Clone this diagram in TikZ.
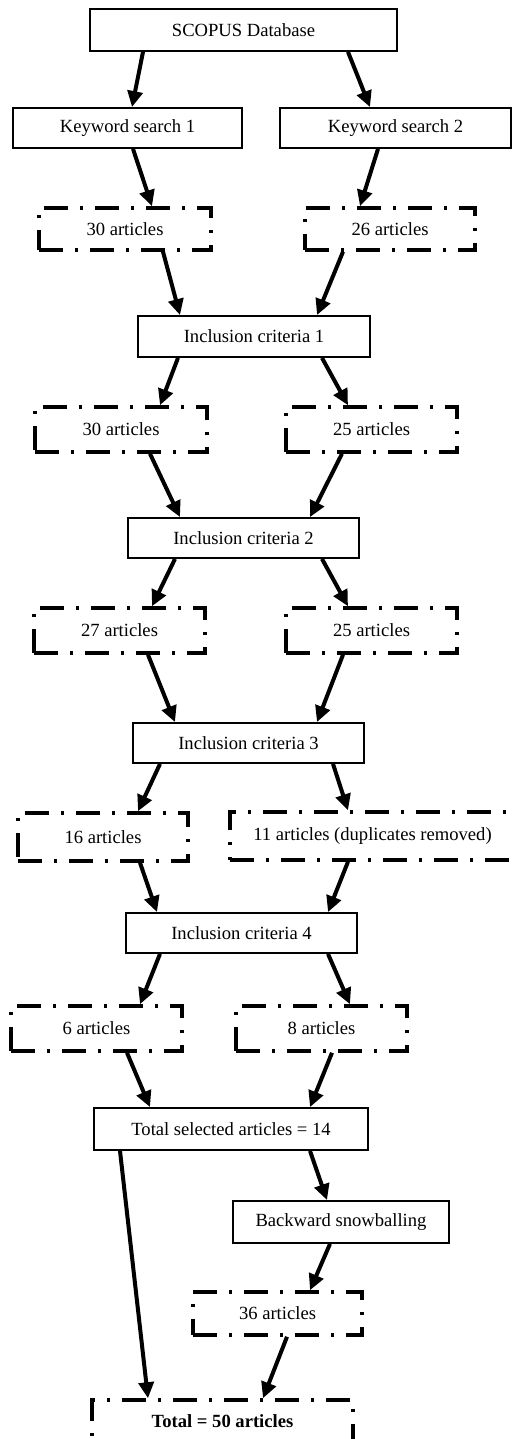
\documentclass[tikz,border=0pt]{standalone}
\usepackage{fontspec}
\setmainfont{Liberation Serif}
\usetikzlibrary{arrows.meta}
\tikzset{
  solidbox/.style={draw=black, line width=1.8pt, inner sep=0pt, fill=white,
    font=\fontsize{18.6}{22}\selectfont},
  dashbox/.style={draw=black, line width=3.5pt, inner sep=0pt,
    dash pattern=on 24pt off 12pt on 3pt off 12pt,
    font=\fontsize{18.6}{22}\selectfont},
  arr/.style={draw=black, line width=4pt,
    -{Triangle[length=16pt,width=15pt]}}
}
\begin{document}
\begin{tikzpicture}[x=1pt,y=-1pt]
\fill[white] (0,0) rectangle (512,1439);
\useasboundingbox (0,0) rectangle (512,1439);

\node[solidbox, minimum width=307pt, minimum height=42pt] (scopus) at (243.5,30) {SCOPUS Database};
\node[solidbox, minimum width=229pt, minimum height=40pt] (ks1) at (127.5,128) {Keyword search 1};
\node[solidbox, minimum width=231pt, minimum height=40pt] (ks2) at (395.5,128) {Keyword search 2};
\node[dashbox, minimum width=172pt, minimum height=42pt] (a30) at (125,229) {30 articles};
\node[dashbox, minimum width=170pt, minimum height=42pt] (a26) at (390,229) {26 articles};
\node[solidbox, minimum width=232pt, minimum height=41pt] (ic1) at (254,336.5) {Inclusion criteria 1};
\node[dashbox, minimum width=172pt, minimum height=45pt] (b30) at (121,429.5) {30 articles};
\node[dashbox, minimum width=171pt, minimum height=45pt] (b25) at (371.5,429.5) {25 articles};
\node[solidbox, minimum width=231pt, minimum height=40pt] (ic2) at (243.5,538) {Inclusion criteria 2};
\node[dashbox, minimum width=171pt, minimum height=45pt] (c27) at (119.5,630.5) {27 articles};
\node[dashbox, minimum width=171pt, minimum height=45pt] (c25) at (371.5,630.5) {25 articles};
\node[solidbox, minimum width=231pt, minimum height=40pt] (ic3) at (248.5,743) {Inclusion criteria 3};
\node[dashbox, minimum width=170pt, minimum height=48pt] (d16) at (103,837) {16 articles};
\node[dashbox, minimum width=285pt, minimum height=48pt] (d11) at (372.5,836) {11 articles (duplicates removed)};
\node[solidbox, minimum width=231pt, minimum height=40pt] (ic4) at (241.5,933) {Inclusion criteria 4};
\node[dashbox, minimum width=171pt, minimum height=45pt] (e6) at (96.5,1028.5) {6 articles};
\node[dashbox, minimum width=171pt, minimum height=45pt] (e8) at (321.5,1028.5) {8 articles};
\node[solidbox, minimum width=274pt, minimum height=42pt] (tot) at (231,1129) {Total selected articles = 14};
\node[solidbox, minimum width=216pt, minimum height=42pt] (bs) at (341,1222) {Backward snowballing};
\node[dashbox, minimum width=169pt, minimum height=43pt] (f36) at (277.5,1313.5) {36 articles};
\node[dashbox, minimum width=261pt, minimum height=42pt] (t50) at (222.5,1421) {\bfseries Total = 50 articles};

\draw[arr] ([xshift=-100.5pt]scopus.south) -- ([xshift=4.5pt]ks1.north);
\draw[arr] ([xshift=104.5pt]scopus.south) -- ([xshift=-25.5pt]ks2.north);
\draw[arr] ([xshift=5.5pt]ks1.south) -- ([xshift=27pt]a30.north);
\draw[arr] ([xshift=-17.5pt]ks2.south) -- ([xshift=-30pt]a26.north);
\draw[arr] ([xshift=38pt]a30.south) -- ([xshift=-74pt]ic1.north);
\draw[arr] ([xshift=-47pt]a26.south) -- ([xshift=63pt]ic1.north);
\draw[arr] ([xshift=-76pt]ic1.south) -- ([xshift=39pt]b30.north);
\draw[arr] ([xshift=68pt]ic1.south) -- ([xshift=-23.5pt]b25.north);
\draw[arr] ([xshift=29pt]b30.south) -- ([xshift=-63.5pt]ic2.north);
\draw[arr] ([xshift=-29.5pt]b25.south) -- ([xshift=66.5pt]ic2.north);
\draw[arr] ([xshift=-68.5pt]ic2.south) -- ([xshift=32.5pt]c27.north);
\draw[arr] ([xshift=78.5pt]ic2.south) -- ([xshift=-23.5pt]c25.north);
\draw[arr] ([xshift=28.5pt]c27.south) -- ([xshift=-73.5pt]ic3.north);
\draw[arr] ([xshift=-28.5pt]c25.south) -- ([xshift=68.5pt]ic3.north);
\draw[arr] ([xshift=-88.5pt]ic3.south) -- ([xshift=35pt]d16.north);
\draw[arr] ([xshift=84.5pt]ic3.south) -- ([xshift=-24.5pt]d11.north);
\draw[arr] ([xshift=37pt]d16.south) -- ([xshift=-84.5pt]ic4.north);
\draw[arr] ([xshift=-24.5pt]d11.south) -- ([xshift=86.5pt]ic4.north);
\draw[arr] ([xshift=-81.5pt]ic4.south) -- ([xshift=43.5pt]e6.north);
\draw[arr] ([xshift=86.5pt]ic4.south) -- ([xshift=28.5pt]e8.north);
\draw[arr] ([xshift=30.5pt]e6.south) -- ([xshift=-81pt]tot.north);
\draw[arr] ([xshift=10.5pt]e8.south) -- ([xshift=79pt]tot.north);
\draw[arr] ([xshift=79pt]tot.south) -- ([xshift=-14pt]bs.north);
\draw[arr] ([xshift=-111pt]tot.south) -- ([xshift=-74.5pt]t50.north);
\draw[arr] ([xshift=-11pt]bs.south) -- ([xshift=32.5pt]f36.north);
\draw[arr] ([xshift=9.5pt]f36.south) -- ([xshift=40.5pt]t50.north);
\end{tikzpicture}
\end{document}
